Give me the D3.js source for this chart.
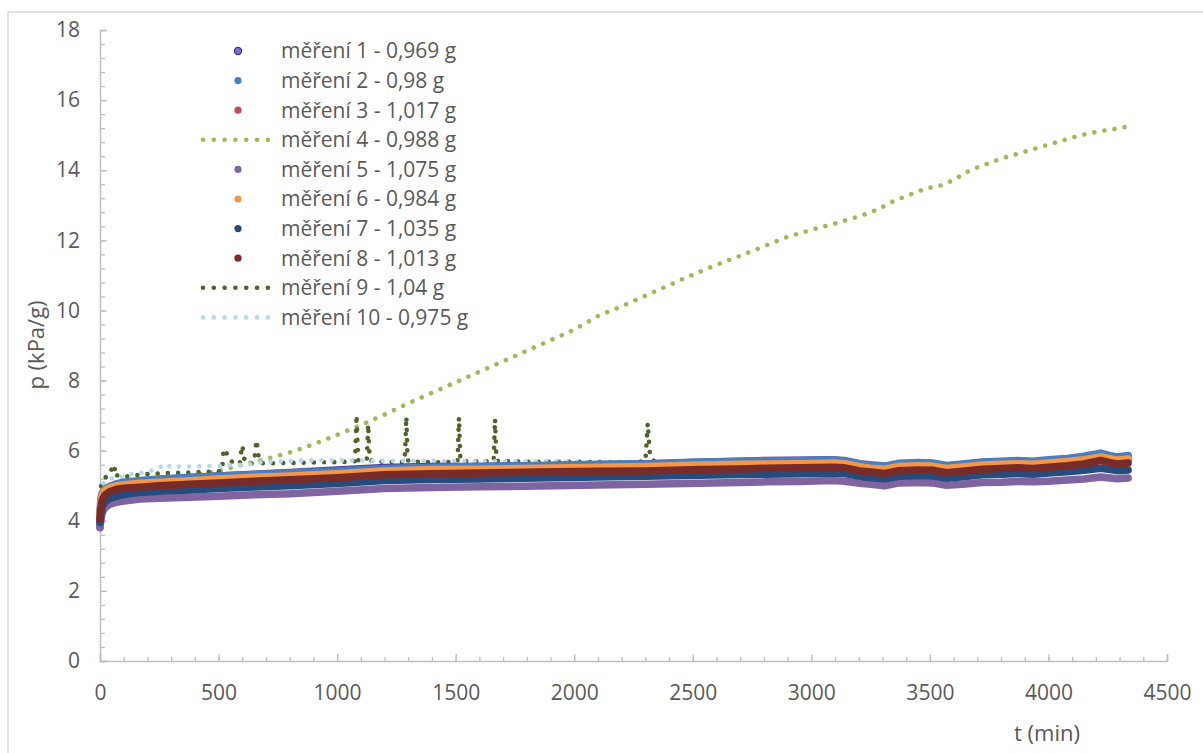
<!DOCTYPE html>
<html><head><meta charset="utf-8">
<script src="https://cdn.jsdelivr.net/npm/d3@7"></script>
<style>
html,body{margin:0;padding:0;background:#fff;}
svg{display:block;font-family:"Open Sans","Noto Sans",sans-serif;}
</style></head>
<body>
<svg id="chart" width="1203" height="753"></svg>
<script>
// ---- data ----
const legendLabels = ["měření 1 - 0,969 g","měření 2 - 0,98 g","měření 3 - 1,017 g","měření 4 - 0,988 g","měření 5 - 1,075 g","měření 6 - 0,984 g","měření 7 - 1,035 g","měření 8 - 1,013 g","měření 9 - 1,04 g","měření 10 - 0,975 g"];
const seriesColors = ["#4b3d9b","#4a7ebf","#c0504d","#9bbb59","#8064a2","#f79646","#264c7d","#772c2a","#4f6228","#b4d9ea"];
const seriesKinds = ["marker","marker","marker","dots","marker","marker","marker","marker","dots","dots"];

const xTicks = [0,500,1000,1500,2000,2500,3000,3500,4000,4500];
const yTicks = [0,2,4,6,8,10,12,14,16,18];

// time grid of the marker series (min)
const tMark = [0,3,6,10,20,40,70,100,170,250,380,500,650,800,1000,1200,1400,1600,1850,2100,2300,2530,2700,2810,2950,3090,3140,3205,3250,3310,3370,3450,3510,3570,3650,3720,3800,3870,3935,4000,4080,4150,4220,4260,4290,4336];
const s1 = [3.82,4.4,4.65,4.76,4.88,4.96,5.04,5.08,5.13,5.18,5.23,5.28,5.33,5.38,5.45,5.52,5.55,5.55,5.57,5.6,5.62,5.67,5.7,5.72,5.73,5.74,5.7,5.61,5.58,5.54,5.62,5.64,5.63,5.56,5.61,5.66,5.68,5.7,5.68,5.72,5.76,5.81,5.89,5.84,5.8,5.83];
const s2 = [4.25,4.55,4.7,4.8,4.9,4.98,5.06,5.1,5.15,5.19,5.24,5.28,5.32,5.36,5.42,5.49,5.53,5.55,5.58,5.61,5.63,5.68,5.7,5.71,5.72,5.74,5.72,5.63,5.6,5.56,5.64,5.66,5.65,5.58,5.63,5.68,5.7,5.72,5.7,5.74,5.78,5.84,5.93,5.86,5.82,5.86];
const s3 = [4.1,4.38,4.55,4.67,4.8,4.89,4.95,4.98,5.02,5.05,5.09,5.14,5.19,5.23,5.29,5.37,5.4,5.42,5.45,5.47,5.48,5.52,5.54,5.56,5.57,5.59,5.57,5.48,5.45,5.41,5.49,5.51,5.5,5.43,5.48,5.53,5.55,5.57,5.55,5.59,5.64,5.7,5.79,5.74,5.71,5.74];
const s5 = [3.8,3.98,4.12,4.24,4.36,4.47,4.53,4.56,4.62,4.64,4.67,4.7,4.74,4.77,4.84,4.92,4.95,4.97,4.99,5.02,5.04,5.07,5.09,5.11,5.12,5.15,5.13,5.07,5.04,5.0,5.08,5.09,5.08,5.01,5.05,5.09,5.1,5.12,5.11,5.13,5.16,5.19,5.25,5.22,5.2,5.22];
const s6 = [4.15,4.45,4.62,4.74,4.86,4.94,5.0,5.03,5.07,5.1,5.14,5.19,5.24,5.28,5.34,5.42,5.46,5.47,5.5,5.53,5.55,5.59,5.61,5.62,5.63,5.65,5.63,5.54,5.5,5.47,5.55,5.57,5.56,5.49,5.54,5.59,5.61,5.63,5.61,5.65,5.69,5.74,5.82,5.77,5.73,5.76];
const s7 = [3.95,4.15,4.3,4.42,4.53,4.63,4.7,4.75,4.81,4.84,4.88,4.92,4.96,5.0,5.06,5.15,5.18,5.19,5.22,5.25,5.27,5.3,5.32,5.33,5.34,5.36,5.35,5.27,5.23,5.2,5.27,5.29,5.28,5.21,5.26,5.31,5.33,5.35,5.33,5.36,5.4,5.44,5.5,5.46,5.43,5.45];
const s8 = [4.05,4.3,4.48,4.6,4.73,4.83,4.9,4.93,4.96,5.0,5.04,5.08,5.13,5.17,5.23,5.31,5.34,5.36,5.39,5.41,5.42,5.46,5.48,5.5,5.51,5.53,5.51,5.42,5.39,5.35,5.43,5.45,5.44,5.37,5.42,5.47,5.49,5.51,5.49,5.53,5.57,5.62,5.72,5.66,5.62,5.65];

const t4 = [0,10,30,100,250,400,500,600,700,800,900,1000,1100,1200,1300,1400,1500,1600,1700,1800,1900,2000,2100,2200,2300,2400,2500,2600,2700,2800,2900,3000,3100,3200,3250,3300,3350,3400,3450,3500,3550,3600,3650,3700,3800,3900,4000,4100,4150,4200,4250,4300,4330];
const s4 = [4.2,4.75,4.95,5.05,5.15,5.3,5.42,5.6,5.76,5.95,6.18,6.45,6.73,7.03,7.35,7.65,7.95,8.25,8.55,8.85,9.15,9.45,9.84,10.12,10.42,10.72,11.02,11.3,11.56,11.83,12.1,12.3,12.48,12.68,12.8,12.95,13.13,13.26,13.4,13.5,13.57,13.72,13.93,14.08,14.33,14.53,14.73,14.93,15.02,15.09,15.15,15.2,15.24];

const t9 = [0,5,12,25,40,48,52,56,60,64,70,100,150,200,260,320,380,430,480,515,520,525,530,535,540,545,550,555,560,575,590,595,600,605,610,630,650,655,660,665,670,680,720,800,880,960,1040,1075,1078,1080,1082,1084,1086,1090,1110,1125,1128,1131,1134,1137,1150,1200,1260,1285,1288,1290,1292,1294,1296,1300,1350,1420,1490,1508,1511,1514,1517,1520,1530,1580,1640,1660,1663,1666,1669,1672,1680,1750,1850,1950,2050,2150,2250,2300,2305,2310,2315,2320,2340,2400];
const s9 = [4.7,5.0,5.15,5.25,5.3,5.45,5.55,5.5,5.42,5.52,5.3,5.25,5.3,5.33,5.35,5.37,5.38,5.39,5.4,5.42,5.95,6.05,6.02,5.9,5.85,5.82,5.72,5.7,5.62,5.64,5.65,5.95,6.15,5.95,5.7,5.62,5.65,6.0,6.3,6.05,5.75,5.64,5.64,5.65,5.66,5.67,5.68,5.7,6.2,6.6,7.02,6.6,6.2,5.72,5.72,5.73,6.2,6.75,6.3,5.75,5.7,5.68,5.67,5.68,6.2,6.6,6.97,6.5,6.0,5.7,5.68,5.67,5.68,5.7,6.3,6.95,6.3,5.72,5.7,5.69,5.7,5.7,6.3,6.9,6.3,5.72,5.7,5.69,5.68,5.68,5.68,5.67,5.67,5.7,6.2,6.78,6.3,5.82,5.68,5.66];

const t10 = [0,8,15,35,60,80,120,160,200,240,275,300,330,380,430,500,560,620,690,780,870,960,1050,1150,1250,1400,1550,1700,1850,2000,2100];
const s10 = [4.5,4.95,5.08,5.2,5.22,5.22,5.33,5.34,5.42,5.46,5.63,5.52,5.55,5.55,5.56,5.56,5.6,5.6,5.68,5.7,5.72,5.73,5.72,5.71,5.71,5.71,5.7,5.7,5.7,5.69,5.65];

// ---- chart ----
const svg = d3.select("#chart");
svg.append("rect").attr("width",1203).attr("height",753).attr("fill","#fff");
svg.append("rect").attr("x",8).attr("y",12).attr("width",1400).attr("height",900)
  .attr("fill","none").attr("stroke","#d9d9d9").attr("stroke-width",1.5);

const x = d3.scaleLinear().domain([0,4500]).range([100,1167]);
const y = d3.scaleLinear().domain([0,18]).range([661,30]);

const axisColor = "#bfbfbf", textColor = "#595959";

// minor ticks
const gxMinor = svg.append("g").attr("transform","translate(0,661)")
  .call(d3.axisBottom(x).tickValues(d3.range(0,4501,100)).tickSize(-4).tickFormat(""));
const gyMinor = svg.append("g").attr("transform","translate(100,0)")
  .call(d3.axisLeft(y).tickValues(d3.range(0,46).map(i=>i*0.4)).tickSize(-5).tickFormat(""));
// major
const gx = svg.append("g").attr("transform","translate(0,661)")
  .call(d3.axisBottom(x).tickValues(xTicks).tickSize(-7).tickPadding(24).tickFormat(d3.format("d")));
const gy = svg.append("g").attr("transform","translate(100,0)")
  .call(d3.axisLeft(y).tickValues(yTicks).tickSize(-7).tickPadding(20).tickFormat(d3.format("d")));
[gxMinor,gyMinor,gx,gy].forEach(g=>{
  g.selectAll("path.domain").attr("stroke",axisColor).attr("stroke-width",1.5);
  g.selectAll(".tick line").attr("stroke",axisColor).attr("stroke-width",1.3);
  g.selectAll("text").attr("fill",textColor).style("font-size","21px").style("font-family","'Open Sans'");
});
gxMinor.select("path.domain").remove(); gyMinor.select("path.domain").remove();

// axis titles
svg.append("text").attr("x",1047).attr("y",741).attr("text-anchor","middle")
  .attr("fill",textColor).style("font-size","22px").text("t (min)");
svg.append("text").attr("transform","translate(44,345) rotate(-90)").attr("text-anchor","middle")
  .attr("fill",textColor).style("font-size","22px").text("p (kPa/g)");

const line = d3.line().x(d=>x(d[0])).y(d=>y(d[1]));
const zip = (t,v)=>t.map((ti,i)=>[ti,v[i]]);

const plot = svg.append("g");
// lines (dotted) first, as Excel draws all lines before markers
const dotted = [[3,t4,s4],[8,t9,s9],[9,t10,s10]];
dotted.forEach(([k,t,v])=>{
  plot.append("path").datum(zip(t,v)).attr("d",line)
    .attr("fill","none").attr("stroke",seriesColors[k]).attr("stroke-width",4.6)
    .attr("stroke-linecap","round").attr("stroke-dasharray","0.01 10.2");
});
// marker series: dense markers forming a band
const marks = [[0,s1],[1,s2],[2,s3],[4,s5],[5,s6],[6,s7],[7,s8]];
marks.forEach(([k,v])=>{
  plot.append("path").datum(zip(tMark,v)).attr("d",line)
    .attr("fill","none").attr("stroke",seriesColors[k]).attr("stroke-width",7.5)
    .attr("stroke-linecap","round").attr("stroke-linejoin","round");
});

// legend
const leg = svg.append("g");
legendLabels.forEach((lab,i)=>{
  const cy = 51 + i*29.6;
  if (seriesKinds[i]==="marker"){
    leg.append("circle").attr("cx",238).attr("cy",cy).attr("r",3.6)
      .attr("fill", i===0 ? "#7a6cc8" : seriesColors[i])
      .attr("stroke", i===0 ? "#3f318e" : "none").attr("stroke-width",1.2);
  } else {
    leg.append("line").attr("x1",203).attr("x2",270).attr("y1",cy).attr("y2",cy)
      .attr("stroke",seriesColors[i]).attr("stroke-width",4.6).attr("stroke-linecap","round")
      .attr("stroke-dasharray","0.01 10.8");
  }
  leg.append("text").attr("x",281).attr("y",cy).attr("dy","0.35em")
    .attr("fill",textColor).style("font-size","21px").text(lab);
});
</script>
</body></html>
